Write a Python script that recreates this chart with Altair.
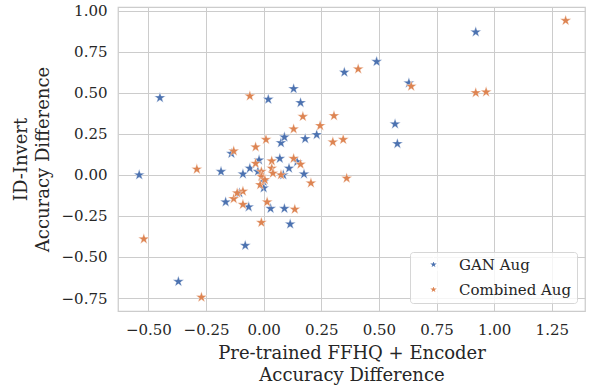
import altair as alt
import pandas as pd

# GAN Aug series
gan_x = [-0.45, -0.54, -0.37, -0.08, 0.02, 0.13, 0.16, 0.35, 0.49, 0.92, 0.63, 0.57,
         0.58, 0.18, 0.23, 0.075, 0.09, -0.14, 0.07, -0.02, 0.11, 0.175, -0.185, -0.09,
         -0.06, -0.025, 0.0, 0.0, -0.165, -0.105, -0.065, 0.03, 0.09, 0.115, 0.145, 0.085]
gan_y = [0.47, 0.00, -0.65, -0.43, 0.46, 0.525, 0.44, 0.625, 0.69, 0.87, 0.56, 0.31,
         0.19, 0.22, 0.245, 0.195, 0.23, 0.13, 0.10, 0.09, 0.04, 0.005, 0.02, 0.005,
         0.04, 0.02, -0.04, -0.08, -0.165, -0.11, -0.195, -0.205, -0.205, -0.30, 0.08, 0.0]

# Combined Aug series
comb_x = [1.31, 0.92, 0.965, 0.41, 0.64, 0.305, 0.345, 0.30, 0.36, -0.06, 0.17, 0.245,
          0.13, 0.01, -0.035, -0.13, -0.29, -0.035, 0.035, 0.035, 0.13, 0.16, 0.075, 0.04,
          0.205, -0.01, -0.01, -0.015, -0.09, -0.13, -0.09, 0.015, 0.135, -0.01, -0.52,
          -0.27, 0.005, -0.115]
comb_y = [0.94, 0.50, 0.505, 0.645, 0.54, 0.36, 0.215, 0.20, -0.02, 0.48, 0.355, 0.30,
          0.28, 0.215, 0.17, 0.145, 0.035, 0.07, 0.085, 0.04, 0.10, 0.065, 0.0, 0.01,
          -0.05, 0.02, -0.01, -0.06, -0.10, -0.145, -0.18, -0.165, -0.21, -0.29, -0.39,
          -0.745, -0.03, -0.11]

series_names = ["GAN Aug", "Combined Aug"]
series_colors = ["#4C72B0", "#DD8452"]
x_ticks = [-0.5, -0.25, 0.0, 0.25, 0.5, 0.75, 1.0, 1.25]
y_ticks = [-0.75, -0.5, -0.25, 0.0, 0.25, 0.5, 0.75, 1.0]

# five-pointed star in the unit box, inner radius 0.382
STAR = ("M0,-1L-0.2245,-0.309L-0.951,-0.309L-0.363,0.118L-0.588,0.809"
        "L0,0.382L0.588,0.809L0.363,0.118L0.951,-0.309L0.2245,-0.309Z")

df = pd.concat([
    pd.DataFrame({"x": gan_x, "y": gan_y, "method": series_names[0]}),
    pd.DataFrame({"x": comb_x, "y": comb_y, "method": series_names[1]}),
], ignore_index=True)
df["idx"] = range(len(df))

FONT = "DejaVu Serif"
TEXT = "#262626"

chart = alt.Chart(df).mark_point(
    shape=STAR, filled=True, size=135, opacity=1, stroke="white", strokeWidth=0.4
).encode(
    x=alt.X("x:Q", scale=alt.Scale(domain=[-0.632, 1.394], nice=False, zero=False),
            axis=alt.Axis(values=x_ticks, format=".2f",
                          title=["Pre-trained FFHQ + Encoder", "Accuracy Difference"])),
    y=alt.Y("y:Q", scale=alt.Scale(domain=[-0.829, 1.023], nice=False, zero=False),
            axis=alt.Axis(values=y_ticks, format=".2f",
                          title=["ID-Invert", "Accuracy Difference"])),
    color=alt.Color("method:N", sort=series_names,
                    scale=alt.Scale(domain=series_names, range=series_colors),
                    legend=alt.Legend(title=None, orient="bottom-right", offset=8,
                                      padding=5, symbolOffset=11, labelOffset=18,
                                      rowPadding=7, symbolSize=130, symbolType=STAR,
                                      labelFontSize=15, labelFont=FONT, labelColor=TEXT,
                                      strokeColor="#d6d6d6", fillColor="rgba(255,255,255,0.8)",
                                      cornerRadius=3)),
    order=alt.Order("idx:Q"),
).properties(
    width=467, height=304,
    background="white",
    autosize=alt.AutoSizeParams(type="none"),
    padding={"left": 118, "top": 7, "right": 4, "bottom": 74},
).configure_view(
    stroke="#cccccc", strokeWidth=1.25
).configure_axis(
    grid=True, gridColor="#cccccc", gridWidth=1, domain=False, ticks=False,
    labelFont=FONT, labelFontSize=15, labelColor=TEXT, labelPadding=11,
    titleFont=FONT, titleFontSize=18, titleFontWeight="normal", titleColor=TEXT,
    titleLineHeight=22,
).configure_axisX(
    titlePadding=7,
).configure_axisY(
    titlePadding=9,
)

chart.save("out.html", embed_options={"renderer": "svg", "actions": False})
